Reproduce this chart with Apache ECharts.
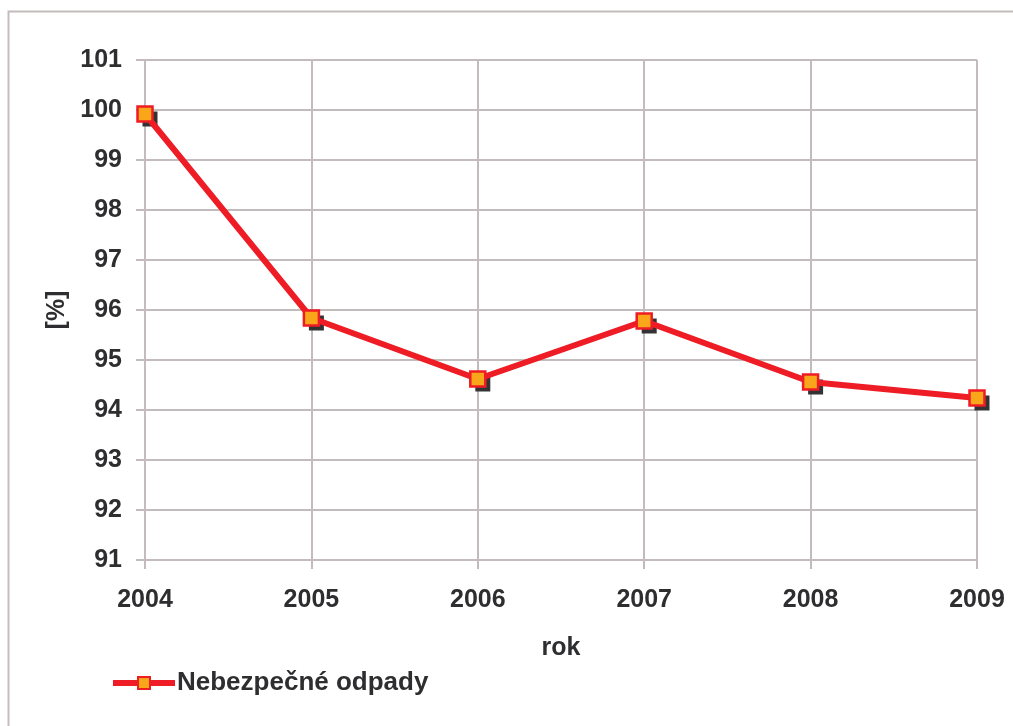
<!DOCTYPE html>
<html>
<head>
<meta charset="utf-8">
<script src="https://cdn.jsdelivr.net/npm/echarts@6/dist/echarts.min.js"></script>
<style>
  html, body { margin: 0; padding: 0; background: #fff; }
  #chart { width: 1013px; height: 726px; }
</style>
</head>
<body>
<div id="chart"></div>
<script>
// data
var years = ['2004', '2005', '2006', '2007', '2008', '2009']
var hazardousWaste = [99.92, 95.84, 94.62, 95.78, 94.56, 94.24]
var seriesName = 'Nebezpečné odpady'

var gridColor = '#c4bcbc'
var textColor = '#2e2e30'
var font = 'Liberation Sans, Arial, sans-serif'

var chart = echarts.init(document.getElementById('chart'))
chart.setOption({
  animation: false,
  backgroundColor: '#fff',
  graphic: [{
    type: 'rect',
    shape: { x: 8.5, y: 11.5, width: 1100, height: 800 },
    style: { fill: 'none', stroke: gridColor, lineWidth: 2 },
    silent: true
  }],
  grid: { left: 145, right: 36, top: 60, bottom: 166 },
  legend: {
    left: 105,
    top: 665,
    itemWidth: 62,
    itemHeight: 15,
    itemGap: 10,
    padding: 5,
    lineStyle: { width: 6 },
    textStyle: { fontFamily: font, fontWeight: 'bold', fontSize: 26, color: textColor, padding: [0, 0, 0, -3] },
    data: [seriesName]
  },
  xAxis: {
    type: 'category',
    data: years,
    boundaryGap: false,
    name: 'rok',
    nameLocation: 'middle',
    nameGap: 76,
    nameTextStyle: { fontFamily: font, fontWeight: 'bold', fontSize: 25, color: textColor },
    axisLine: { lineStyle: { color: gridColor, width: 2 } },
    axisTick: { show: true, length: 9, lineStyle: { color: gridColor, width: 2 } },
    axisLabel: { margin: 28, fontFamily: font, fontWeight: 'bold', fontSize: 25, color: textColor },
    splitLine: { show: true, lineStyle: { color: gridColor, width: 2 } }
  },
  yAxis: {
    type: 'value',
    min: 91,
    max: 101,
    interval: 1,
    name: '[%]',
    nameLocation: 'middle',
    nameGap: 75,
    nameRotate: 90,
    nameTextStyle: { fontFamily: font, fontWeight: 'bold', fontSize: 25, color: textColor },
    axisLine: { show: true, lineStyle: { color: gridColor, width: 2 } },
    axisTick: { show: true, length: 9, lineStyle: { color: gridColor, width: 2 } },
    axisLabel: { margin: 23, fontFamily: font, fontWeight: 'bold', fontSize: 25, color: textColor },
    splitLine: { show: true, lineStyle: { color: gridColor, width: 2 } }
  },
  series: [{
    // dark drop shadow behind the markers
    name: 'shadow',
    type: 'line',
    data: hazardousWaste,
    symbol: 'rect',
    symbolSize: 15,
    symbolOffset: [5, 5],
    showAllSymbol: true,
    lineStyle: { width: 0, opacity: 0 },
    itemStyle: { color: '#333335' },
    silent: true,
    z: 4
  }, {
    name: seriesName,
    type: 'line',
    data: hazardousWaste,
    symbol: 'rect',
    symbolSize: 15,
    lineStyle: { color: '#ee1c25', width: 6 },
    itemStyle: {
      color: '#f9a61a',
      borderColor: '#ee1c25',
      borderWidth: 2.5
    },
    z: 5
  }]
})
</script>
</body>
</html>
